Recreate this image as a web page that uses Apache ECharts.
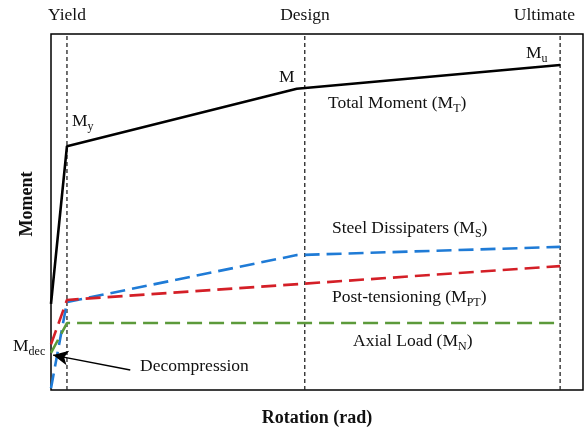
<!DOCTYPE html>
<html>
<head>
<meta charset="utf-8">
<style>
  html, body { margin: 0; padding: 0; background: #fff; }
  #chart { width: 587px; height: 430px; }
</style>
<script src="https://cdn.jsdelivr.net/npm/echarts@6/dist/echarts.min.js"></script>
</head>
<body>
<div id="chart"></div>
<script>
// Moment–rotation idealisation of a post-tensioned rocking connection.
// Rotation and moment are in relative units (0–100) along each axis.

// Performance limits on the rotation axis
const limitNames = ['Yield', 'Design', 'Ultimate'];
const limitRotation = [3.0, 47.7, 95.7];

// Total moment M_T
const totalRotation = [0, 3.0, 46.2, 95.7];
const totalMoment = [24.2, 68.5, 84.6, 91.3];

// Steel dissipaters M_S
const steelRotation = [0, 3.0, 46.2, 95.7];
const steelMoment = [0.5, 24.7, 37.9, 40.2];

// Post-tensioning M_PT
const ptRotation = [0, 3.0, 95.7];
const ptMoment = [12.8, 25.3, 34.8];

// Axial load M_N
const axialRotation = [0, 3.0, 95.7];
const axialMoment = [10.4, 18.8, 18.8];

// Decompression point annotation (arrow tail -> arrow tip)
const decompArrowRotation = [14.9, 0.4];
const decompArrowMoment = [5.6, 9.8];

const pairs = (xs, ys) => xs.map((x, i) => [x, ys[i]]);

const SERIF = "'Liberation Serif', 'Times New Roman', serif";
const INK = '#111';

const chart = echarts.init(document.getElementById('chart'), null, { renderer: 'canvas' });

const gridLeft = 51, gridTop = 34, gridW = 532, gridH = 356;

function curve(name, xs, ys, color, width, dash) {
  return {
    name: name,
    type: 'line',
    data: pairs(xs, ys),
    symbol: 'none',
    silent: true,
    lineStyle: { color: color, width: width, type: dash, cap: 'butt' },
    z: 3
  };
}

const limitSeries = limitRotation.map((r, i) => ({
  name: limitNames[i],
  type: 'line',
  data: [[r, 0], [r, 100]],
  symbol: 'none',
  silent: true,
  lineStyle: { color: '#222', width: 1.3, type: [4, 3] },
  z: 2
}));

// main glyphs and lowered subscripts
const subRich = {
  m: { fontFamily: SERIF, fontSize: 17.5, color: INK, lineHeight: 20, verticalAlign: 'top' },
  s: { fontFamily: SERIF, fontSize: 12, color: INK, lineHeight: 12, verticalAlign: 'top', padding: [9, 0, 0, 0] }
};

function label(x, y, text, align) {
  return {
    type: 'text',
    x: x, y: y,
    silent: true,
    style: {
      text: text,
      rich: subRich,
      fontFamily: SERIF,
      fontSize: 17.5,
      fill: INK,
      align: align || 'left',
      verticalAlign: 'middle'
    }
  };
}

const option = {
  animation: false,
  backgroundColor: '#fff',
  grid: {
    left: gridLeft, top: gridTop, width: gridW, height: gridH,
    show: true, borderColor: '#000', borderWidth: 1.5, backgroundColor: 'transparent'
  },
  xAxis: { type: 'value', min: 0, max: 100, show: false },
  yAxis: { type: 'value', min: 0, max: 100, show: false },
  series: [
    ...limitSeries,
    curve('Total Moment', totalRotation, totalMoment, '#000', 2.6, 'solid'),
    curve('Steel Dissipaters', steelRotation, steelMoment, '#1f7bd6', 2.6, [15, 7]),
    curve('Post-tensioning', ptRotation, ptMoment, '#d41f27', 2.6, [15, 7]),
    Object.assign(curve('Axial Load', axialRotation, axialMoment, '#5c9a3b', 2.6, [15, 7]), {
      markLine: {
        silent: true,
        symbol: ['none', 'arrow'],
        symbolSize: [11, 15],
        label: { show: false },
        lineStyle: { color: '#000', width: 1.5, type: 'solid' },
        data: [[
          { coord: [decompArrowRotation[0], decompArrowMoment[0]] },
          { coord: [decompArrowRotation[1], decompArrowMoment[1]] }
        ]]
      }
    })
  ],
  graphic: [
    // limit names above the frame
    { type: 'text', x: 67, y: 15, silent: true,
      style: { text: limitNames[0], fontFamily: SERIF, fontSize: 17.5, fill: INK, align: 'center', verticalAlign: 'middle' } },
    { type: 'text', x: 305, y: 15, silent: true,
      style: { text: limitNames[1], fontFamily: SERIF, fontSize: 17.5, fill: INK, align: 'center', verticalAlign: 'middle' } },
    { type: 'text', x: 575, y: 15, silent: true,
      style: { text: limitNames[2], fontFamily: SERIF, fontSize: 17.5, fill: INK, align: 'right', verticalAlign: 'middle' } },

    // axis titles
    { type: 'text', x: 27, y: 204, rotation: Math.PI / 2, silent: true,
      style: { text: 'Moment', fontFamily: SERIF, fontSize: 18, fontWeight: 'bold', fill: INK, align: 'center', verticalAlign: 'middle' } },
    { type: 'text', x: 317, y: 418, silent: true,
      style: { text: 'Rotation (rad)', fontFamily: SERIF, fontSize: 18, fontWeight: 'bold', fill: INK, align: 'center', verticalAlign: 'middle' } },

    // curve labels
    label(328, 104, '{m|Total Moment (M}{s|T}{m|)}'),
    label(332, 229, '{m|Steel Dissipaters (M}{s|S}{m|)}'),
    label(332, 298, '{m|Post-tensioning (M}{s|PT}{m|)}'),
    label(353, 342, '{m|Axial Load (M}{s|N}{m|)}'),
    label(140, 367, '{m|Decompression}'),

    // characteristic moments
    label(72, 122, '{m|M}{s|y}'),
    label(279, 78, '{m|M}'),
    label(526, 54, '{m|M}{s|u}'),
    label(13, 347, '{m|M}{s|dec}')
  ]
};

chart.setOption(option);
</script>
</body>
</html>
